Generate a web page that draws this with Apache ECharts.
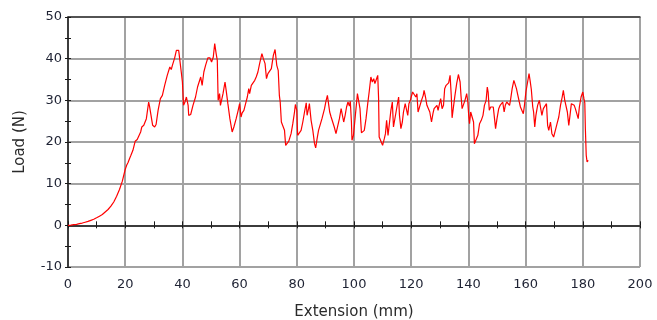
<!DOCTYPE html>
<html>
<head>
<meta charset="utf-8">
<script src="https://cdn.jsdelivr.net/npm/echarts@6/dist/echarts.min.js"></script>
<style>
  html, body { margin: 0; padding: 0; background: #ffffff; }
  #chart { width: 657px; height: 320px; }
</style>
</head>
<body>
<div id="chart"></div>
<script>
// Load–extension record of the tensile test
const extension = [
  0, 1, 2, 3, 4, 5, 6, 7, 8, 9, 10, 11, 12, 13, 14, 15, 16, 17, 18, 19, 20, 20.5, 21, 21.5, 22, 22.7, 23.5,
  24.2, 24.7, 25.4, 25.8, 26.5, 27.4, 28.2, 28.5, 29.1, 29.6, 30.3, 30.8, 31.5, 32.3, 33, 33.8, 34.7, 35.6, 36.1, 36.5,
  37.3, 37.9, 38.7, 39.2, 39.6, 40, 40.4, 40.9, 41.4, 42, 42.2, 42.9, 43.7, 44.6, 45.3, 45.9, 46.4, 46.9, 47.5, 48.1,
  48.9, 49.6, 50.2, 50.8, 51.3, 51.8, 52.2, 52.5, 53, 53.3, 53.7, 54.2, 54.9, 55.3, 55.9, 56.6, 57.4, 58, 58.8, 59.5,
  60, 60.5, 60.9, 61.5, 62.1, 62.7, 63.2, 63.5, 64.1, 64.7, 65.3, 65.8, 66.4, 67, 67.8, 68.3, 68.9, 69.4, 69.9, 70.5,
  71.1, 71.8, 72.4, 73, 73.5, 73.9, 74.2, 74.6, 75.2, 75.7, 76.1, 76.7, 77.2, 78, 78.6, 79.2, 79.5, 80, 80.3, 80.9,
  81.5, 82.1, 82.7, 83.3, 83.6, 84.1, 84.4, 85, 85.6, 86.2, 86.6, 87.1, 87.6, 88.1, 88.8, 89.7, 90.2, 90.7, 91.2, 91.5,
  92, 92.6, 93.1, 93.7, 94.2, 94.9, 95.5, 96, 96.4, 96.9, 97.4, 97.9, 98.4, 98.7, 99.1, 99.3, 99.8, 100.2, 100.7, 101.2,
  101.6, 102.1, 102.6, 103.1, 103.6, 104.2, 104.8, 105.3, 105.9, 106.4, 106.9, 107.3, 107.8, 108.3, 108.6, 108.8, 109.4, 110, 110.6, 111,
  111.4, 111.9, 112.3, 112.9, 113.4, 113.8, 114.4, 115, 115.6, 115.9, 116.4, 116.9, 117.3, 117.9, 118.5, 118.8, 119.2, 119.7, 120, 120.5,
  121, 121.6, 122, 122.4, 123, 123.6, 124.2, 124.5, 125, 125.5, 126, 126.5, 127.1, 127.6, 128, 128.5, 129, 129.4, 129.9, 130.3,
  130.8, 131.3, 131.7, 132.2, 132.7, 133.1, 133.6, 134, 134.3, 134.7, 135.3, 135.9, 136.5, 137.1, 137.4, 137.8, 138.2, 138.8, 139.4, 139.8,
  140.1, 140.4, 140.8, 141.3, 141.8, 142.1, 142.7, 143.3, 143.9, 144.5, 145.1, 145.6, 146.2, 146.6, 146.9, 147.3, 147.8, 148.2, 148.7, 149.2,
  149.5, 150, 150.6, 151.1, 151.5, 152, 152.5, 152.9, 153.4, 153.9, 154.4, 154.8, 155.3, 155.9, 156.4, 156.8, 157.3, 157.8, 158.2, 158.7,
  159.2, 159.6, 160.1, 160.7, 161.2, 161.6, 162, 162.5, 162.8, 163.2, 163.6, 164.2, 164.8, 165.3, 165.7, 166.2, 166.7, 167.3, 167.7, 168.1,
  168.7, 169.2, 169.8, 170.4, 171, 171.6, 172.2, 172.8, 173.2, 173.7, 174.2, 174.6, 175.1, 175.6, 176, 176.5, 177, 177.4, 177.9, 178.4,
  178.8, 179.4, 180, 180.4, 180.7, 180.9, 181.2, 181.5, 181.9
];
const load = [
  0, 0.05, 0.15, 0.25, 0.4, 0.55, 0.75, 0.95, 1.2, 1.45, 1.8, 2.2, 2.6, 3.2, 3.8, 4.6, 5.6, 7, 8.6, 10.6, 13.4, 14.4, 15.1, 16, 16.8, 18, 20.2,
  20.6, 20.3, 22.4, 23.6, 24, 25.6, 29.6, 28.6, 28.6, 24, 23.6, 24.2, 27.6, 30.4, 31.2, 33.6, 36, 38, 37.4, 38.4,
  40.2, 42, 42, 41.6, 36.8, 34.4, 28.8, 29.6, 30.8, 28.8, 26.4, 26.6, 28.8, 30.8, 33.2, 33.2, 35.6, 33.6, 36.8, 38.4,
  40.2, 40.2, 39.2, 40.4, 43.6, 41.2, 39.6, 30, 31.6, 28.8, 28.4, 31.6, 34.4, 32.4, 29.2, 25.6, 22.4, 23.6, 25.6, 27.6,
  29.2, 26, 27, 27.6, 29.2, 30.8, 32.8, 31.6, 33.6, 34, 34.8, 35.6, 36.8, 38.8, 41.2, 40, 38.8, 35.2, 36.4, 36,
  37.6, 40.8, 42.2, 38.4, 37.2, 31.2, 29.6, 24.8, 24.4, 22.8, 19.2, 19.4, 20.2, 22, 24.4, 27.2, 29, 27.6, 21.6, 22,
  22.8, 24.8, 27.2, 29.4, 26.4, 28, 29.2, 25.2, 22.8, 19.6, 18.6, 20.8, 22.8, 23.2, 25.6, 28, 29.8, 31.2, 31, 27.2,
  26, 25.6, 23.6, 22, 22.2, 25.6, 28, 28.4, 24.8, 26.4, 28.4, 29.6, 28.6, 29.8, 24.8, 20.4, 21.6, 24.4, 28, 31.6,
  32, 28, 22.2, 22.2, 22.8, 25.6, 29.2, 32, 35.6, 34.4, 35.2, 34, 35, 36, 30.4, 21.2, 20.8, 19.2, 20.8, 22,
  25.2, 21.6, 24, 27.6, 29.6, 23.6, 26, 28.4, 30.8, 26.4, 23.2, 24.8, 27.2, 29.2, 29.6, 26.4, 29.2, 30, 30.8, 32,
  31.6, 30.8, 31.6, 27.2, 27.6, 30, 31.2, 32.4, 30.8, 28.8, 29.2, 27.2, 24.8, 26.8, 28, 27.6, 28.8, 27.6, 29.2, 30.4,
  28, 28.8, 32.8, 33.6, 33.4, 34.2, 36, 31.2, 25.8, 28, 31.2, 34, 36.2, 34.4, 31.2, 28, 28.4, 30, 31.6, 29.6,
  26.4, 24.4, 27.2, 26, 24.8, 19.6, 20, 21.6, 24.4, 25.2, 26.4, 28.8, 30, 33.2, 32, 27.6, 28.4, 28.8, 28.4, 25.2,
  23.2, 25.6, 28, 28.8, 28.4, 29.6, 27.2, 28.8, 29.6, 30, 28.8, 30.4, 32.8, 34.8, 34.4, 32.8, 31.2, 29.6, 28.4, 28,
  26.8, 28.8, 32, 34.4, 36.4, 34.6, 32.6, 28.4, 27.2, 23.6, 26.4, 28.8, 30, 30.4, 26.4, 28, 28.4, 29.2, 24, 22.8,
  24.8, 22, 21.2, 22.8, 24.4, 26, 28.8, 30.8, 32.4, 30, 30.4, 27.2, 24, 26.8, 29.2, 29.6, 28.8, 28, 26.8, 25.6,
  28.4, 30.8, 32, 30.4, 29.4, 23.2, 16.8, 15.2, 15.6
];

const xRange = { min: 0, max: 200, interval: 20 };
const yRange = { min: -10, max: 50, interval: 10 };

const points = extension.map((x, i) => [x, load[i]]);

const FONT = 'DejaVu Sans, Verdana, sans-serif';
const AXIS_COLOR = '#1a1a1a';
const GRID_COLOR = '#a2a2a2';

const chart = echarts.init(document.getElementById('chart'), null, { renderer: 'canvas' });

// ticks cross the axis line: one axis draws the outer half, a twin draws the inner half
function tickHalf(inside, len) {
  return {
    axisTick: { show: true, inside: inside, length: len, lineStyle: { color: AXIS_COLOR, width: 1 } },
    minorTick: { show: true, splitNumber: 2, length: len, lineStyle: { color: AXIS_COLOR, width: 1 } }
  };
}

chart.setOption({
  animation: false,
  backgroundColor: '#ffffff',
  grid: { left: 68, right: 17, top: 17, bottom: 53, containLabel: false, outerBoundsMode: 'none' },
  xAxis: [
    Object.assign({
      type: 'value', position: 'bottom',
      min: xRange.min, max: xRange.max, interval: xRange.interval,
      name: 'Extension (mm)', nameLocation: 'middle', nameGap: 38,
      nameTextStyle: { fontFamily: FONT, fontSize: 15, color: '#2a2a2a' },
      axisLine: { show: true, lineStyle: { color: AXIS_COLOR, width: 1.5 } },
      axisLabel: { fontFamily: FONT, fontSize: 13, color: '#1e2233', margin: 11 },
      splitLine: { show: true, lineStyle: { color: GRID_COLOR, width: 2 } }
    }, tickHalf(false, 3)),
    Object.assign({
      type: 'value', position: 'bottom',
      min: xRange.min, max: xRange.max, interval: xRange.interval,
      axisLine: { show: false }, axisLabel: { show: false }, splitLine: { show: false }
    }, tickHalf(true, 4)),
    {
      type: 'value', position: 'top',
      min: xRange.min, max: xRange.max, interval: xRange.interval,
      axisLine: { show: true, lineStyle: { color: '#3a3a3a', width: 1.5 } },
      axisTick: { show: false }, axisLabel: { show: false }, splitLine: { show: false }
    }
  ],
  yAxis: [
    Object.assign({
      type: 'value', position: 'left',
      min: yRange.min, max: yRange.max, interval: yRange.interval,
      name: 'Load (N)', nameLocation: 'middle', nameGap: 40, nameRotate: 90,
      nameTextStyle: { fontFamily: FONT, fontSize: 15, color: '#2a2a2a' },
      axisLine: { show: true, lineStyle: { color: AXIS_COLOR, width: 1.5 } },
      axisLabel: { fontFamily: FONT, fontSize: 13, color: '#1e2233', margin: 6 },
      splitLine: { show: true, lineStyle: { color: GRID_COLOR, width: 2 } }
    }, tickHalf(false, 3)),
    Object.assign({
      type: 'value', position: 'left',
      min: yRange.min, max: yRange.max, interval: yRange.interval,
      axisLine: { show: false }, axisLabel: { show: false }, splitLine: { show: false }
    }, tickHalf(true, 3))
  ],
  series: [{
    type: 'line',
    xAxisIndex: 0,
    yAxisIndex: 0,
    data: points,
    showSymbol: false,
    symbol: 'none',
    lineStyle: { color: '#ff0000', width: 1.2 },
    z: 5
  }]
});
</script>
</body>
</html>
